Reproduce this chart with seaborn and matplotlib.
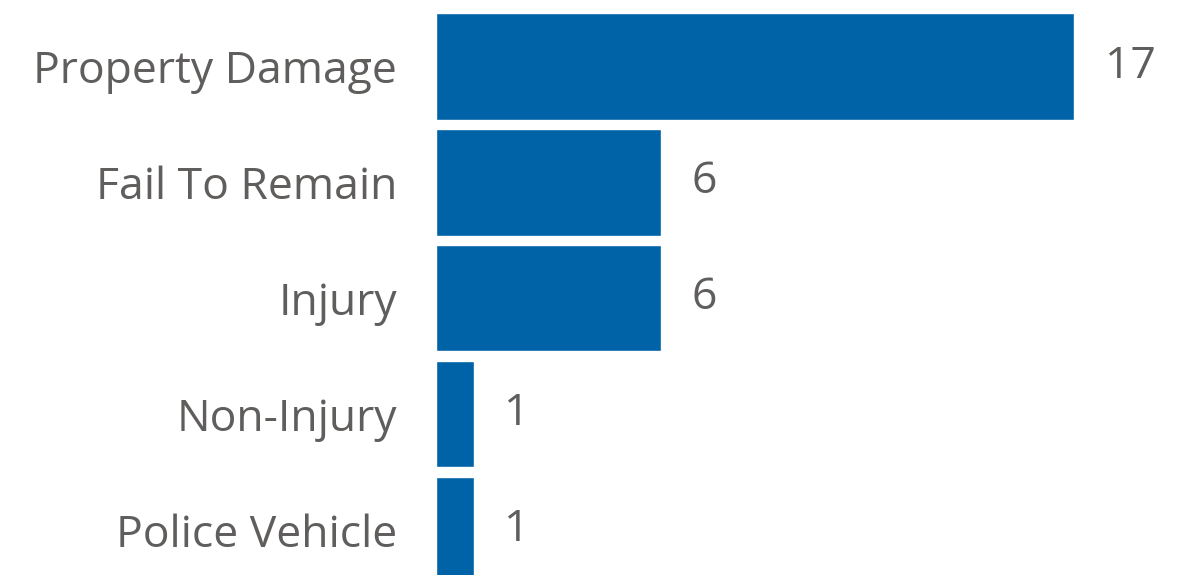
import pandas as pd
import seaborn as sns
import matplotlib.pyplot as plt

# dati
categorie = ["Property Damage", "Fail To Remain", "Injury", "Non-Injury", "Police Vehicle"]
valori = [17, 6, 6, 1, 1]

df = pd.DataFrame({"categoria": categorie, "valore": valori})

sns.set_style("white")
plt.rcParams['font.family'] = ['Open Sans', 'DejaVu Sans']

fig = plt.figure(figsize=(11.89, 5.75), dpi=100)
ax = fig.add_axes([436 / 1189, 0, (1189 - 436) / 1189, 1])

sns.barplot(data=df, x="valore", y="categoria", orient="h", color="#0063A7",
            saturation=1, width=0.92, ax=ax)

ax.set_xlim(0, 20.06)
ax.set_ylim(4.388, -0.572)

for c in ax.containers:
    ax.bar_label(c, padding=22, fontsize=32, color="#605E5C")

ax.set_xlabel("")
ax.set_ylabel("")
ax.set_xticks([])
ax.tick_params(axis="y", length=0, pad=28, labelsize=32, labelcolor="#605E5C")
sns.despine(ax=ax, left=True, bottom=True)

plt.savefig("out.png", dpi=100)
